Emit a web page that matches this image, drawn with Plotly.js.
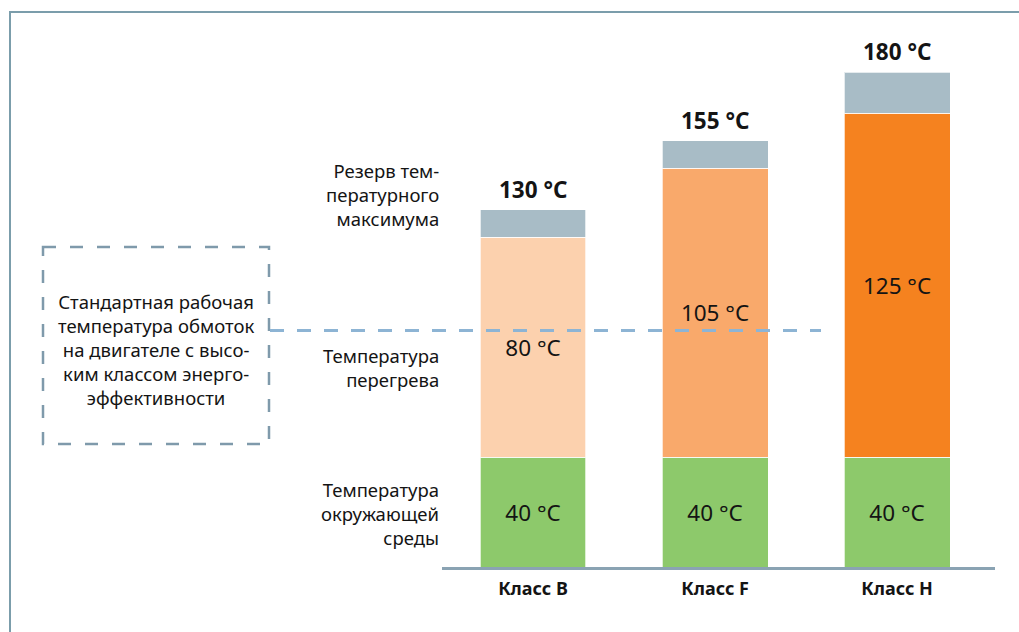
<!DOCTYPE html>
<html>
<head>
<meta charset="utf-8">
<script src="https://cdn.plot.ly/plotly-3.0.1.min.js"></script>
<style>
  html, body { margin: 0; padding: 0; background: #ffffff; }
  #chart { width: 1019px; height: 632px; }
</style>
</head>
<body>
<div id="chart"></div>
<script>
// ---- data ----
const categories = ['Класс B', 'Класс F', 'Класс H'];
const ambientTemp = [40, 40, 40];
const overheatTemp = [80, 105, 125];
const reserveTemp = [10, 10, 15];
const overheatColors = ['#fcd1ae', '#f9a96b', '#f5821f'];
const standardWindingTemp = 86; // dashed reference line level
const rowLabels = [
  {text: 'Резерв тем-<br>пературного<br>максимума', y: 194},
  {text: 'Температура<br>перегрева', y: 367},
  {text: 'Температура<br>окружающей<br>среды', y: 513}
];
const boxText = 'Стандартная рабочая<br>температура обмоток<br>на двигателе с высо-<br>ким классом энерго-<br>эффективности';

// ---- geometry helpers (pixel -> paper) ----
const W = 1019, H = 632;
const L = 442, R = 995, T = 12, B = 567;
const px = x => (x - L) / (R - L);
const py = y => (B - y) / (B - T);

const FONT = 'Noto Sans, Open Sans, sans-serif';
const TXT = '#141414';

const totals = categories.map((c, i) => ambientTemp[i] + overheatTemp[i] + reserveTemp[i]);

const traces = [
  {
    type: 'bar', x: categories, y: ambientTemp,
    marker: {color: '#8dc96b', line: {color: 'rgba(255,255,255,0.7)', width: 1}},
    texttemplate: '%{y} °C', textposition: 'inside', insidetextanchor: 'middle',
    textangle: 0, constraintext: 'none',
    textfont: {family: FONT, size: 22.5, color: TXT},
    hoverinfo: 'skip'
  },
  {
    type: 'bar', x: categories, y: overheatTemp,
    marker: {color: overheatColors, line: {color: 'rgba(255,255,255,0.7)', width: 1}},
    texttemplate: '%{y} °C', textposition: 'inside', insidetextanchor: 'middle',
    textangle: 0, constraintext: 'none',
    textfont: {family: FONT, size: 22.5, color: TXT},
    hoverinfo: 'skip'
  },
  {
    type: 'bar', x: categories, y: reserveTemp,
    marker: {color: '#a8bcc6', line: {color: 'rgba(255,255,255,0.7)', width: 1}},
    text: reserveTemp.map(() => ''), textposition: 'none',
    hoverinfo: 'skip'
  }
];

const annotations = [];
categories.forEach((c, i) => {
  annotations.push({
    x: c, y: totals[i], xref: 'x', yref: 'y',
    text: totals[i] + ' °C', showarrow: false,
    yanchor: 'bottom', yshift: 3,
    font: {family: FONT, size: 22.5, color: TXT, weight: 700}
  });
});
rowLabels.forEach(r => {
  annotations.push({
    x: px(441), y: py(r.y), xref: 'paper', yref: 'paper',
    xanchor: 'right', yanchor: 'middle', align: 'right',
    text: r.text, showarrow: false,
    font: {family: FONT, size: 18.5, color: TXT}
  });
});
annotations.push({
  x: px(156), y: py(349), xref: 'paper', yref: 'paper',
  xanchor: 'center', yanchor: 'middle', align: 'center',
  text: boxText, showarrow: false,
  font: {family: FONT, size: 18.5, color: TXT}
});

const frameColor = '#7b9dab';
const shapes = [
  // outer frame (left + top)
  {type: 'line', xref: 'paper', yref: 'paper', x0: px(10), x1: px(10), y0: py(12), y1: py(H + 5),
   line: {color: frameColor, width: 2}},
  {type: 'line', xref: 'paper', yref: 'paper', x0: px(9), x1: px(W + 5), y0: py(12), y1: py(12),
   line: {color: frameColor, width: 2}},
  // dashed annotation box
  {type: 'rect', xref: 'paper', yref: 'paper', x0: px(43), x1: px(269), y0: py(247), y1: py(444),
   line: {color: '#7f9aab', width: 2.5, dash: '13px,14px'}},
  // dashed reference line
  {type: 'line', xref: 'paper', yref: 'y', x0: px(270), x1: px(821),
   y0: standardWindingTemp, y1: standardWindingTemp, layer: 'above',
   line: {color: '#8db4d4', width: 3, dash: '14px,13px'}}
];

const layout = {
  width: W, height: H,
  margin: {l: L, r: W - R, t: T, b: H - B},
  paper_bgcolor: '#ffffff', plot_bgcolor: '#ffffff',
  barmode: 'stack', bargap: 0.418,
  showlegend: false,
  xaxis: {
    type: 'category', range: [-0.5, 2.538],
    showline: true, linecolor: '#8aa3b3', linewidth: 2.5,
    showgrid: false, zeroline: false, ticks: '',
    ticklabelstandoff: 4,
    tickfont: {family: FONT, size: 18, color: TXT, weight: 700},
    fixedrange: true
  },
  yaxis: {
    range: [0, (B - T) / 2.75],
    visible: false, showgrid: false, zeroline: false, fixedrange: true
  },
  annotations: annotations,
  shapes: shapes,
  font: {family: FONT, color: TXT}
};

Plotly.newPlot('chart', traces, layout, {displayModeBar: false, staticPlot: true});
</script>
</body>
</html>
